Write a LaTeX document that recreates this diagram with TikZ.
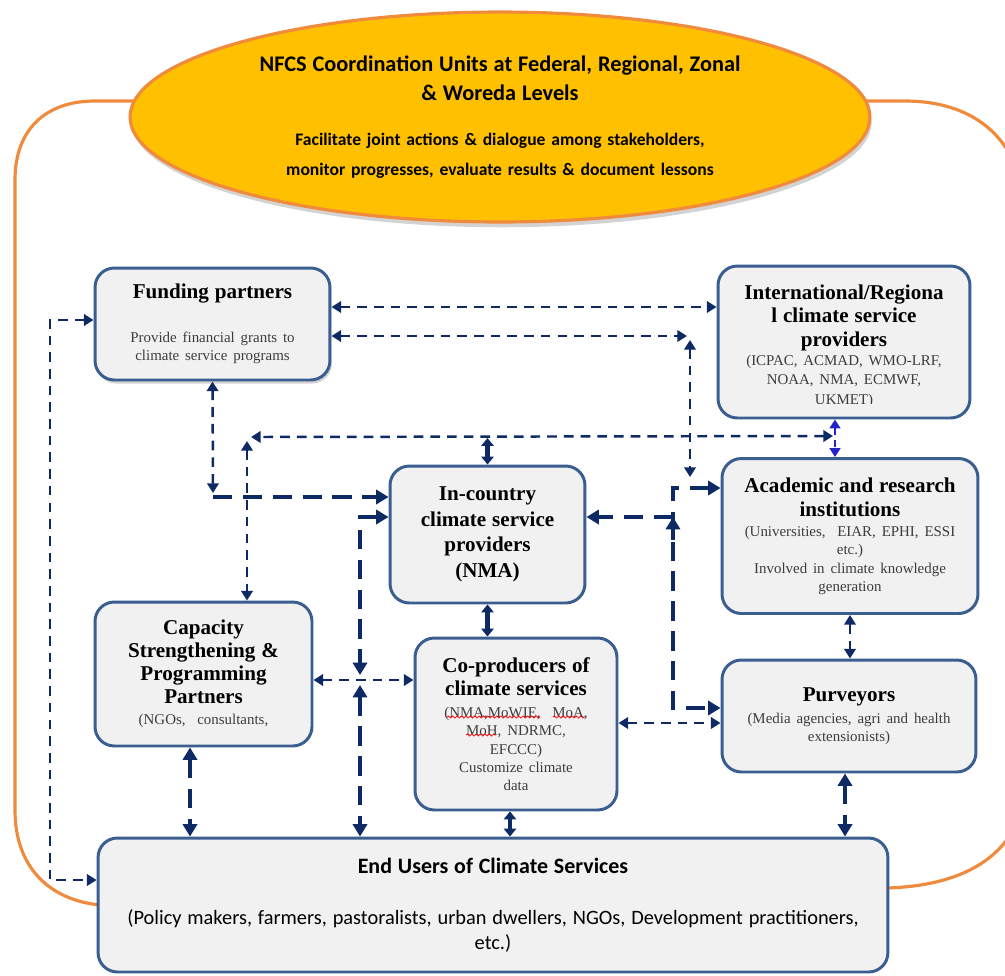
\documentclass[tikz,border=0pt]{standalone}
\usepackage{fontspec}
\setmainfont{Liberation Serif}
\newfontfamily\calfont{Carlito}
\usetikzlibrary{arrows.meta,shapes.geometric,shadows,decorations.pathmorphing}

\definecolor{linknavy}{HTML}{0E2A64}
\definecolor{boxblue}{HTML}{3B5E91}
\definecolor{boxfill}{HTML}{F1F1F1}
\definecolor{frameorange}{HTML}{F08A3C}
\definecolor{ovalfill}{HTML}{FFC000}
\definecolor{subgray}{HTML}{3C3C3C}
\definecolor{blueline}{HTML}{2323C8}

% text helpers for the boxes
\newcommand\ttl[2][13.5pt]{{\fontsize{12}{#1}\selectfont\bfseries #2\par}}
\newcommand\sub[2][10pt]{{\fontsize{8.5}{#1}\selectfont\color{subgray}#2\par}}

\tikzset{
  box/.style={draw=boxblue, fill=boxfill, line width=1.7pt, rounded corners=11pt,
              align=center, inner sep=2pt},
  lnk/.style={draw=linknavy, line width=1.4pt, dash pattern=on 5.5pt off 4pt,
              >={Triangle[length=5.5pt,width=6.5pt]}},
  hvy/.style={draw=linknavy, line width=2.4pt, dash pattern=on 11pt off 6pt,
              >={Triangle[length=7pt,width=8pt]}},
  sld/.style={draw=linknavy, line width=2.4pt, >={Triangle[length=4.5pt,width=7pt]}},
  blu/.style={draw=blueline, line width=1.4pt, dash pattern=on 4pt off 3pt,
              >={Triangle[length=5pt,width=6pt]}},
  frame/.style={draw=frameorange, line width=1.8pt},
  squig/.style={draw=red, line width=0.4pt, decorate,
                decoration={snake, amplitude=0.6pt, segment length=2.5pt}},
}

\begin{document}
\begin{tikzpicture}[x=0.02cm, y=-0.02cm]
\useasboundingbox (0,0) rectangle (1005,975);

% orange frame around the stakeholder network
\begin{scope}
  \clip (0,0) rectangle (1005,975);
  \draw[frame] (140,101) -- (95,101) .. controls (45,101) and (15,130) .. (15,180)
    -- (15,810) .. controls (15,868) and (50,900) .. (100,905);
  \draw[frame] (860,101) -- (905,101) .. controls (975,101) and (1025,140) .. (1025,220)
    -- (1025,780) .. controls (1025,850) and (970,886) .. (886,888);
\end{scope}

% coordination oval
\node[ellipse, draw=frameorange, line width=1.8pt, fill=ovalfill,
      minimum width=14.8cm, minimum height=4.2cm, inner sep=0pt,
      drop shadow={shadow xshift=1pt, shadow yshift=-3pt, opacity=0.35}]
  (nfcs) at (500,117) {};
\node[text width=12cm, align=center, inner sep=0pt] (nfcsT) at (500,117)
  {{\calfont\bfseries\fontsize{12.7}{17}\selectfont
    NFCS Coordination Units at Federal, Regional, Zonal\\ \& Woreda Levels\par}
   \vspace{8.5pt}
   {\calfont\bfseries\fontsize{10}{17}\selectfont
    Facilitate joint actions \& dialogue among stakeholders,\\
    monitor progresses, evaluate results \& document lessons\par}};

% stakeholder boxes
\node[box, minimum width=4.7cm, minimum height=2.24cm, text width=4.5cm,
      drop shadow={shadow xshift=1pt, shadow yshift=-2pt, opacity=0.35}]
  (fund) at (212.5,324)
  {\ttl{Funding partners}\vspace{15pt}
   \sub{Provide financial grants to\\climate service programs}};

\node[box, minimum width=5.04cm, minimum height=3.04cm] (intl) at (844,342) {};
\begin{scope}
  \clip (721,269) rectangle (967,403);
  \node[align=center, text width=4.8cm, inner sep=0pt] (intlT) at (844,346)
    {\ttl[13.3pt]{International/Regiona\\l climate service\\providers}
     \sub[11pt]{(ICPAC, ACMAD, WMO-LRF,\\NOAA, NMA, ECMWF,\\UKMET)}};
\end{scope}

\node[box, minimum width=5.12cm, minimum height=3.1cm, text width=4.9cm]
  (acad) at (850,536)
  {\ttl[13.6pt]{Academic and research\\institutions}\vspace{1.5pt}
   \sub[10.3pt]{(Universities, \ EIAR, EPHI, ESSI\\etc.)\\
   Involved in climate knowledge\\generation}};

\node[box, minimum width=3.9cm, minimum height=2.74cm, text width=3.7cm]
  (incountry) at (487.5,534.5)
  {\ttl[14.6pt]{In-country\\climate service\\providers\\(NMA)}};

\node[box, minimum width=4.34cm, minimum height=2.88cm, text width=4.2cm]
  (cap) at (203.5,674)
  {\ttl[13pt]{Capacity\\Strengthening \&\\Programming\\Partners}\vspace{2pt}
   \sub{(NGOs, \ consultants,}};

\node[box, minimum width=4.04cm, minimum height=3.44cm, text width=3.9cm]
  (coprod) at (516,724)
  {\ttl[13pt]{Co-producers of\\climate services}\vspace{2.5pt}
   \sub[10.3pt]{(NMA,MoWIE, \ MoA,\\MoH, NDRMC,\\EFCCC)\\Customize climate\\data}};

\node[box, minimum width=5.08cm, minimum height=2.24cm, text width=4.9cm]
  (purv) at (849,716)
  {\ttl{Purveyors}\vspace{2pt}
   \sub[10.2pt]{(Media agencies, agri and health\\extensionists)}};

\node[box, minimum width=15.8cm, minimum height=2.68cm, text width=15.6cm]
  (users) at (493,905)
  {{\calfont\bfseries\fontsize{12.5}{14}\selectfont End Users of Climate Services\par}
   \vspace{15pt}
   {\calfont\fontsize{11.6}{14}\selectfont
    (Policy makers, farmers, pastoralists, urban dwellers, NGOs, Development practitioners,\\
    etc.)\par}};

% spell-check marks under the co-producer acronyms
\draw[squig] (447,717) -- (540,717);
\draw[squig] (553,717) -- (585,717);
\draw[squig] (466,735) -- (496,735);

% junction points of the connectors
\coordinate (fr) at (687,336);
\coordinate (vtop) at (690,340);
\coordinate (vbot) at (690,477);
\coordinate (rt) at (833,436);
\coordinate (lc) at (251,437);
\coordinate (lcv) at (247,441);
\coordinate (fbot) at (213,493);
\coordinate (mid) at (360,675);
\coordinate (midlow) at (360,685);
\coordinate (rv) at (673,517);

% funding links
\draw[lnk,<->] (fund.east |- 0,307) -- (intl.west |- 0,307);
\draw[lnk,<->] (fund.east |- 0,336) -- (fr);
\draw[lnk,<->] (vtop) -- (vbot);
\draw[lnk,<->] (fund.south) -- (fbot);
\draw[hvy,->] (213,497) -- (incountry.west |- 0,497);
\draw[lnk,<->] (fund.west |- 0,320) -- (50,320) -- (50,880) -- (users.west |- 0,880);

% top distribution line
\draw[lnk,<->] (rt) -- (lc);
\draw[lnk,<->] (lcv) -- (247,0 |- cap.north);
\draw[sld,<->] (incountry.north) -- (incountry.north |- 0,438);
\draw[blu,<->] (835,0 |- intl.south) -- (835,0 |- acad.north);

% left trunk
\draw[hvy,<->] (incountry.west |- 0,517) -- (360,517) -- (mid);
\draw[hvy,<->] (midlow) -- (360,0 |- users.north);
\draw[lnk,<->] (cap.east |- 0,680) -- (coprod.west |- 0,680);

% right trunk
\draw[hvy,->] (rv) -- (incountry.east |- 0,517);
\draw[hvy,<->] (acad.west |- 0,488) -- (673,488) -- (673,708) -- (purv.west |- 0,708);
\draw[hvy,->] (673,540) -- (rv);

% vertical pairs
\draw[sld,<->] (incountry.south) -- (incountry.south |- coprod.north);
\draw[sld,<->] (510,0 |- coprod.south) -- (510,0 |- users.north);
\draw[hvy,<->] (190,0 |- cap.south) -- (190,0 |- users.north);
\draw[lnk,<->] (850,0 |- acad.south) -- (850,0 |- purv.north);
\draw[hvy,<->] (845,0 |- purv.south) -- (845,0 |- users.north);
\draw[lnk,<->] (coprod.east |- 0,723) -- (purv.west |- 0,723);
\end{tikzpicture}
\end{document}
